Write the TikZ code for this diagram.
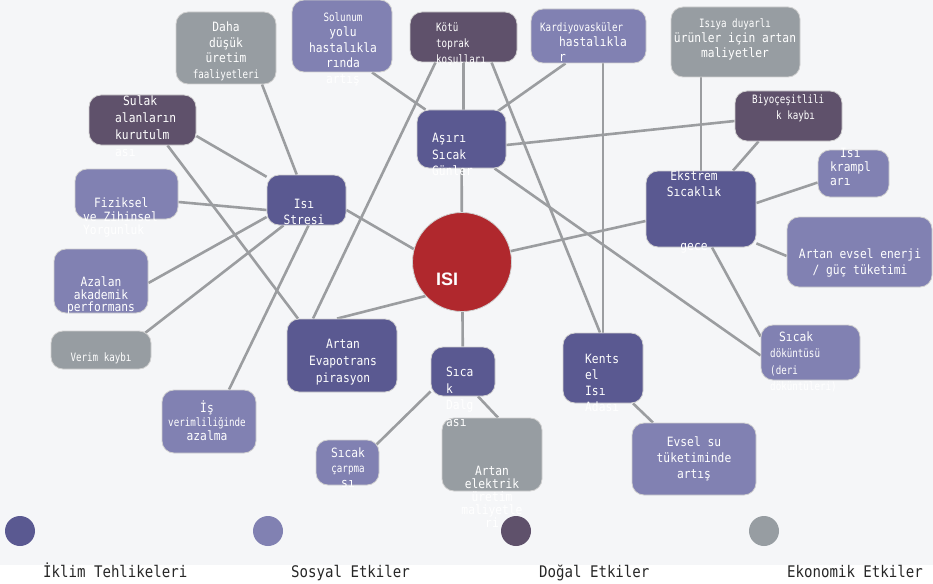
\documentclass[tikz,border=0pt]{standalone}
\usepackage{fontspec}
\newfontfamily\boxfont{DejaVu Sans Mono}[FakeStretch=0.88]
\newfontfamily\narrowfont{DejaVu Sans Mono}[FakeStretch=0.8]
\newfontfamily\isifont{Liberation Sans}
\usetikzlibrary{positioning,backgrounds}
\definecolor{hazard}{RGB}{90,89,145}
\definecolor{social}{RGB}{129,129,178}
\definecolor{natural}{RGB}{95,81,107}
\definecolor{economic}{RGB}{151,157,162}
\definecolor{isired}{RGB}{176,40,45}
\definecolor{linecol}{RGB}{155,157,160}
\definecolor{bgcol}{RGB}{245,246,248}
\newcommand{\smalltxt}[1]{{\narrowfont\fontsize{11.5pt}{15pt}\selectfont #1}}

\begin{document}
\begin{tikzpicture}[x=1pt,y=-1pt,
    lbl/.style={text=white,inner sep=0pt,align=center,font=\boxfont\fontsize{12.8pt}{#1pt}\selectfont},
    lbl/.default=15.5]
  \tikzstyle{box}=[rectangle,rounded corners=12pt,draw=black!18,line width=0.8pt,inner sep=0pt]
  \tikzstyle{hz}=[box,fill=hazard]
  \tikzstyle{soc}=[box,fill=social]
  \tikzstyle{nat}=[box,fill=natural]
  \tikzstyle{eco}=[box,fill=economic]
  \tikzstyle{link}=[draw=linecol,line width=2.6pt]
  \tikzstyle{dot}=[circle,minimum size=30pt,inner sep=0pt]
  \tikzstyle{legtxt}=[inner sep=0pt,text=black!85,font=\boxfont\fontsize{16pt}{16pt}\selectfont]
  \useasboundingbox (0,0) rectangle (933,583);

  % boxes
  \node[eco,minimum width=100pt,minimum height=72pt] (daha) at (226,48) {};
  \node[soc,minimum width=100pt,minimum height=72pt] (solunum) at (342,36) {};
  \node[nat,minimum width=107pt,minimum height=50pt] (kotu) at (463.5,37) {};
  \node[soc,minimum width=115pt,minimum height=54pt] (kardiyo) at (588.5,36) {};
  \node[eco,minimum width=129pt,minimum height=70pt] (isiya) at (735.5,42) {};
  \node[nat,minimum width=107pt,minimum height=50pt] (biyo) at (788.5,116) {};
  \node[nat,minimum width=107pt,minimum height=50pt] (sulak) at (142.5,120) {};
  \node[hz,minimum width=89pt,minimum height=58pt] (asiri) at (461.5,139) {};
  \node[soc,minimum width=71pt,minimum height=47pt] (kramp) at (853.5,173.5) {};
  \node[hz,minimum width=110pt,minimum height=76pt] (ekstrem) at (701,209) {};
  \node[soc,minimum width=103pt,minimum height=50pt] (fiziksel) at (126.5,194) {};
  \node[hz,minimum width=79pt,minimum height=50pt] (stres) at (306.5,200) {};
  \node[circle,draw=black!18,line width=0.8pt,fill=isired,minimum size=99pt,inner sep=0pt] (isi) at (462,262) {};
  \node[soc,minimum width=145pt,minimum height=70pt] (enerji) at (859.5,252) {};
  \node[soc,minimum width=94pt,minimum height=64pt] (azalan) at (101,281) {};
  \node[eco,minimum width=100pt,minimum height=38pt] (verim) at (101,350) {};
  \node[hz,minimum width=110pt,minimum height=73pt] (evapo) at (342,355.5) {};
  \node[hz,minimum width=64pt,minimum height=49pt] (dalga) at (463,371.5) {};
  \node[hz,minimum width=80pt,minimum height=70pt] (kentsel) at (603,368) {};
  \node[soc,minimum width=99pt,minimum height=55pt] (dokuntu) at (810.5,352.5) {};
  \node[soc,minimum width=94pt,minimum height=63pt] (is) at (209,421.5) {};
  \node[soc,minimum width=63pt,minimum height=45pt] (carpma) at (347.5,462.5) {};
  \node[eco,minimum width=100pt,minimum height=73pt] (elektrik) at (492,454.5) {};
  \node[soc,minimum width=124pt,minimum height=72pt] (evsel) at (694,459) {};

  % texts
  \node[lbl] (daha-t) at (226,51.5) {Daha\\düşük\\üretim\\\smalltxt{faaliyetleri}};
  \node[lbl] (solunum-t) at (343,49) {\smalltxt{Solunum}\\yolu\\hastalıkla\\rında\\artış};
  \node[lbl=16,align=left,anchor=west] (kotu-t) at (436,44) {\smalltxt{Kötü}\\\smalltxt{toprak}\\\smalltxt{koşulları}};
  \node[lbl=15,align=left,anchor=west] (kardiyo-t) at (540,42.5) {\smalltxt{Kardiyovasküler}\\\hspace*{19pt}hastalıkla\\\hspace*{19pt}r};
  \node[lbl=15] (isiya-t) at (735,39) {\smalltxt{Isıya duyarlı}\\ürünler için artan\\maliyetler};
  \node[lbl=16,align=left,anchor=west] (biyo-t) at (752,108) {\smalltxt{Biyoçeşitlili}\\\hspace*{24pt}\smalltxt{k kaybı}};
  \node[lbl=17,align=left,anchor=west] (sulak-t) at (115,126.5) {\hspace*{8pt}Sulak\\alanların\\kurutulm\\ası};
  \node[lbl=16.5,align=left,anchor=west] (asiri-t) at (432,154.5) {Aşırı\\Sıcak\\Günler};
  \node[lbl=14,align=left,anchor=west] (kramp-t) at (830,167) {\hspace*{10pt}Isı\\krampl\\arı};
  \node[lbl=16] (ekstrem-t) at (694,212) {Ekstrem\\Sıcaklık\\[38pt]gece};
  \node[lbl=13.5,align=left,anchor=west] (fiziksel-t) at (83,217.5) {\hspace*{11pt}Fiziksel\\ve Zihinsel\\Yorgunluk};
  \node[lbl=16] (stres-t) at (304,212) {Isı\\Stresi};
  \node[text=white,inner sep=0pt,font=\isifont\bfseries\fontsize{18pt}{18pt}\selectfont] (isi-t) at (447,279.5) {ISI};
  \node[lbl] (enerji-t) at (860,263) {Artan evsel enerji\\/ güç tüketimi};
  \node[lbl=12.5] (azalan-t) at (101,295.5) {Azalan\\akademik\\performans};
  \node[lbl] (verim-t) at (101,358) {\smalltxt{Verim kaybı}};
  \node[lbl=17] (evapo-t) at (343,362) {Artan\\Evapotrans\\pirasyon};
  \node[lbl=16.5,align=left,anchor=west] (dalga-t) at (446,397) {Sıca\\k\\Dalg\\ası};
  \node[lbl=16,align=left,anchor=west] (kentsel-t) at (585,383) {Kents\\el\\Isı\\Adası};
  \node[lbl=16.5,align=left,anchor=west] (dokuntu-t) at (770,362) {\hspace*{9pt}Sıcak\\\smalltxt{döküntüsü}\\\smalltxt{(deri}\\\smalltxt{döküntüleri)}};
  \node[lbl=14] (is-t) at (207,421) {İş\\\smalltxt{verimliliğinde}\\azalma};
  \node[lbl=15] (carpma-t) at (348,468) {Sıcak\\\smalltxt{çarpma}\\sı};
  \node[lbl=13] (elektrik-t) at (492,496.5) {Artan\\elektrik\\üretim\\maliyetle\\ri};
  \node[lbl=16] (evsel-t) at (694,459) {Evsel su\\tüketiminde\\artış};

  % legend
  \node[dot,fill=hazard] (leg1) at (20,531) {};
  \node[dot,fill=social] (leg2) at (268,531) {};
  \node[dot,fill=natural] (leg3) at (516,531) {};
  \node[dot,fill=economic] (leg4) at (764,531) {};
  \node[legtxt,anchor=base west] (leg1-t) at ([xshift=23pt,yshift=-46pt]leg1.center) {İklim Tehlikeleri};
  \node[legtxt,anchor=base west] (leg2-t) at ([xshift=23pt,yshift=-46pt]leg2.center) {Sosyal Etkiler};
  \node[legtxt,anchor=base west] (leg3-t) at ([xshift=23pt,yshift=-46pt]leg3.center) {Doğal Etkiler};
  \node[legtxt,anchor=base west] (leg4-t) at ([xshift=23pt,yshift=-46pt]leg4.center) {Ekonomik Etkiler};

  \begin{scope}[on background layer]
    \fill[bgcol] (0,0) rectangle (933,565);
    % links
    \draw[link] ([xshift=36pt]daha.south) -- (stres);
    \draw[link] ([yshift=-16pt]sulak.east) -- (stres);
    \draw[link] ([xshift=25pt]sulak.south) -- ([xshift=-44pt]evapo.north);
    \draw[link] ([xshift=30pt]solunum.south) -- ([xshift=-36pt]asiri.north);
    \draw[link] ([xshift=-28pt]kotu.south) -- ([xshift=-29pt]evapo.north);
    \draw[link] (kotu.south) -- (kotu.south |- asiri.north);
    \draw[link] ([xshift=28pt]kotu.south) -- ([xshift=-3pt]kentsel.north);
    \draw[link] ([xshift=-23pt]kardiyo.south) -- ([xshift=30pt,yshift=-6pt]asiri.north);
    \draw[link] (kentsel.north |- kardiyo.south) -- (kentsel.north);
    \draw[link] ([yshift=-6pt]asiri.east) -- ([yshift=-5pt]biyo.west);
    \draw[link] ([xshift=33pt]asiri.south) -- ([yshift=-3pt]dokuntu.west);
    \draw[link] (asiri) -- (isi);
    \draw[link] (ekstrem.north |- isiya.south) -- (ekstrem.north);
    \draw[link] ([xshift=-30pt]biyo.south) -- ([xshift=32pt]ekstrem.north);
    \draw[link] ([yshift=-9pt]kramp.west) -- ([yshift=6pt]ekstrem.east);
    \draw[link] ([yshift=4pt]ekstrem.south east) -- ([yshift=-4pt]enerji.west);
    \draw[link] ([xshift=11pt]ekstrem.south) -- ([yshift=-12pt]dokuntu.north west);
    \draw[link] (isi) -- ([yshift=-12pt]ekstrem.west);
    \draw[link] (isi.165) -- ([yshift=-10pt]stres.east);
    \draw[link] (isi.223) -- ([xshift=-5pt]evapo.north);
    \draw[link] (isi) -- (dalga);
    \draw[link] ([yshift=-10pt]stres.west) -- ([yshift=-8pt]fiziksel.east);
    \draw[link] ([yshift=-17pt]stres.west) -- ([yshift=-2pt]azalan.east);
    \draw[link] ([xshift=-23pt]stres.south) -- ([xshift=-11pt,yshift=-6pt]verim.north east);
    \draw[link] ([xshift=2pt]stres.south) -- ([xshift=20pt]is.north);
    \draw[link] ([yshift=5pt]dalga.south west) -- ([xshift=-3pt,yshift=-5pt]carpma.north east);
    \draw[link] ([xshift=15pt]dalga.south) -- ([xshift=6pt]elektrik.north);
    \draw[link] ([xshift=30pt]kentsel.south) -- ([xshift=-41pt]evsel.north);
  \end{scope}
\end{tikzpicture}
\end{document}
